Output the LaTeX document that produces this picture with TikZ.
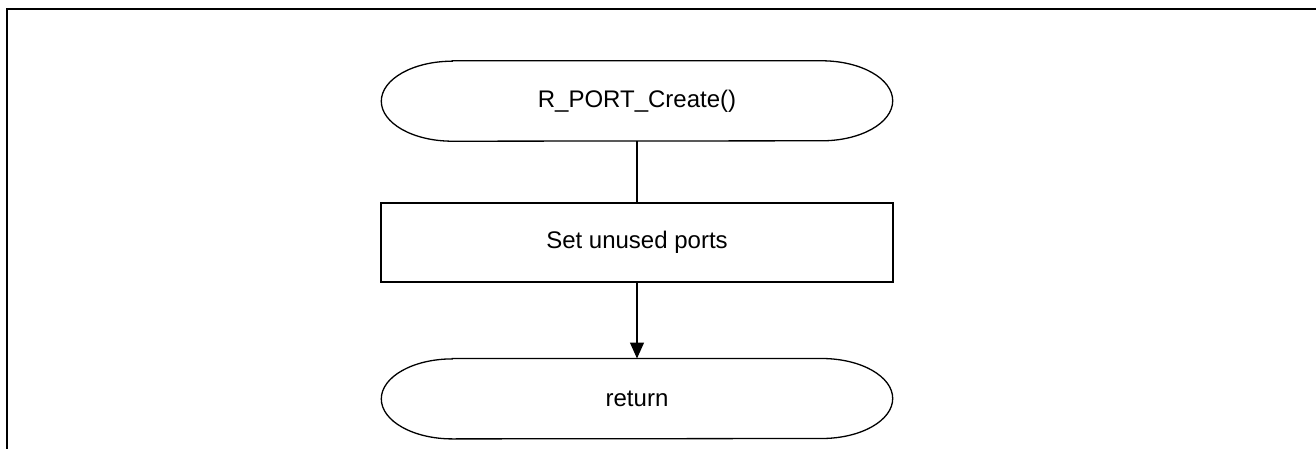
\documentclass[tikz,border=0pt]{standalone}
\usepackage{fontspec}
\setmainfont{Liberation Sans}
\usetikzlibrary{positioning, arrows.meta}

\tikzset{
  flow/.style={line width=1.3pt},
  procbox/.style={draw, flow, rectangle, minimum width=512pt, minimum height=79pt, inner sep=0pt},
  termbox/.style={rectangle, minimum width=511pt, minimum height=80pt, inner sep=0pt},
}
% ellipse-ended outline round a terminal node
\newcommand{\termline}[1]{%
  \draw[flow] ([xshift=71pt]#1.north west) -- ([xshift=-71pt]#1.north east)
    arc[start angle=90, end angle=-90, x radius=71pt, y radius=40pt]
    -- ([xshift=71pt]#1.south west)
    arc[start angle=270, end angle=90, x radius=71pt, y radius=40pt] -- cycle;}

\begin{document}
\begin{tikzpicture}[x=1pt, y=1pt, font=\fontsize{24}{28}\selectfont]
  \useasboundingbox (0,0) rectangle (1316,-449);
  % frame
  \coordinate (fl) at (7,-449);
  \coordinate (fc) at (7,-9);
  \coordinate (fr) at (1316,-9);
  \draw[line width=2.6pt] (fl) -- (fc) -- (fr);

  \node[termbox] (start) at (637,-101) {R\_PORT\_Create()};
  \node[procbox, below=61pt of start] (unused) {Set unused ports};
  \node[termbox, below=76pt of unused] (ret) {return};
  \termline{start}
  \termline{ret}

  \draw[flow] (start) -- (unused);
  \draw[flow, -{Triangle[length=16pt, width=14pt]}] (unused) -- (ret);
\end{tikzpicture}
\end{document}
